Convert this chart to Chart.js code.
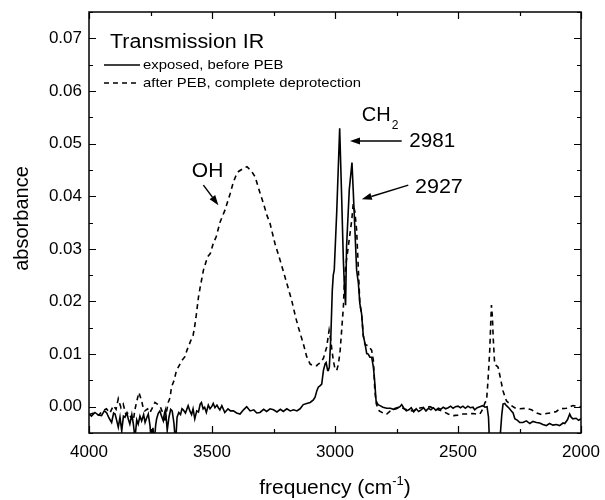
<!DOCTYPE html>
<html>
<head>
<meta charset="utf-8">
<script src="https://cdn.jsdelivr.net/npm/chart.js@4.4.1/dist/chart.umd.min.js"></script>
<style>
  html, body { margin: 0; padding: 0; background: #fff; }
  #ir { display: block; }
</style>
</head>
<body>
<canvas id="ir" width="605" height="500"></canvas>
<script>
// Transmission IR spectra, absorbance vs. wavenumber

const solidFreq = [
    4000, 3990, 3976, 3962, 3949, 3938, 3929, 3918, 3908, 3900,
    3894, 3888, 3881, 3874, 3867, 3860, 3854, 3846, 3840, 3834,
    3826, 3820, 3813, 3806, 3800, 3793, 3786, 3778, 3772, 3766,
    3759, 3752, 3746, 3740, 3735, 3729, 3725, 3718, 3712, 3705,
    3698, 3693, 3689, 3682, 3675, 3668, 3662, 3655, 3648, 3642,
    3635, 3628, 3622, 3617, 3608, 3597, 3590, 3583, 3577, 3570,
    3562, 3555, 3548, 3543, 3536, 3530, 3523, 3515, 3508, 3500,
    3495, 3488, 3480, 3474, 3468, 3460, 3448, 3435, 3425, 3413,
    3400, 3386, 3372, 3359, 3345, 3330, 3318, 3305, 3290, 3278,
    3264, 3250, 3236, 3222, 3210, 3196, 3182, 3168, 3155, 3142,
    3129, 3115, 3101, 3088, 3081, 3074, 3068, 3060, 3054, 3047,
    3040, 3036, 3030, 3027, 3023, 3017, 3011, 3007, 3003, 2993,
    2981, 2973, 2966, 2961, 2957, 2953, 2942, 2931, 2926, 2919,
    2912, 2905, 2899, 2892, 2885, 2878, 2871, 2865, 2858, 2851,
    2844, 2840, 2833, 2825, 2817, 2805, 2790, 2775, 2762, 2750,
    2736, 2729, 2720, 2710, 2700, 2690, 2680, 2670, 2660, 2650,
    2640, 2630, 2620, 2610, 2600, 2590, 2580, 2570, 2560, 2550,
    2540, 2530, 2520, 2510, 2500, 2490, 2480, 2470, 2460, 2450,
    2439, 2432, 2422, 2411, 2400, 2390, 2382, 2376, 2370, 2355,
    2340, 2330, 2322, 2317, 2310, 2303, 2292, 2283, 2276, 2269,
    2258, 2249, 2236, 2222, 2208, 2195, 2181, 2168, 2155, 2141,
    2128, 2114, 2100, 2087, 2073, 2066, 2055, 2046, 2040, 2033,
    2020, 2010, 2000
];
const solidAbs = [
    -0.0014, -0.0018, -0.0011, -0.0016, -0.0017, -0.0008, -0.0011, -0.0022, -0.0030, -0.0012,
    -0.0014, -0.0025, -0.0039, -0.0020, -0.0046, -0.0018, -0.0020, -0.0012, -0.0024, -0.0033,
    -0.0015, -0.0032, -0.0060, -0.0025, -0.0033, -0.0018, -0.0027, -0.0015, -0.0030, -0.0022,
    -0.0014, -0.0036, -0.0070, -0.0040, -0.0070, -0.0035, -0.0023, -0.0012, -0.0008, -0.0018,
    -0.0027, -0.0012, -0.0006, -0.0045, -0.0020, -0.0005, -0.0008, -0.0030, -0.0070, -0.0020,
    -0.0011, -0.0015, -0.0004, -0.0006, -0.0012, 0.0002, -0.0008, -0.0015, -0.0004, -0.0023,
    -0.0008, -0.0010, 0.0005, 0.0008, -0.0004, -0.0001, -0.0011, 0.0003, -0.0004, 0.0001,
    0.0006, -0.0002, 0.0003, -0.0002, -0.0006, 0.0002, -0.0011, -0.0004, -0.0008, -0.0008,
    -0.0012, -0.0014, -0.0006, 0.0000, -0.0008, -0.0006, -0.0012, -0.0011, -0.0005, -0.0009,
    -0.0004, -0.0006, -0.0010, -0.0005, -0.0009, -0.0004, -0.0008, -0.0006, -0.0008, -0.0004,
    0.0004, 0.0006, 0.0008, 0.0013, 0.0018, 0.0030, 0.0037, 0.0040, 0.0043, 0.0069,
    0.0082, 0.0084, 0.0069, 0.0069, 0.0075, 0.0132, 0.0221, 0.0250, 0.0260, 0.0370,
    0.0529, 0.0399, 0.0278, 0.0220, 0.0193, 0.0304, 0.0412, 0.0464, 0.0412, 0.0335,
    0.0259, 0.0235, 0.0196, 0.0177, 0.0135, 0.0120, 0.0101, 0.0100, 0.0094, 0.0094,
    0.0075, 0.0056, 0.0011, 0.0004, 0.0002, -0.0001, -0.0003, -0.0003, -0.0005, -0.0004,
    0.0000, 0.0004, -0.0003, -0.0008, -0.0006, -0.0002, -0.0010, -0.0004, -0.0009, -0.0006,
    -0.0002, -0.0008, -0.0003, -0.0006, -0.0002, -0.0007, -0.0003, -0.0005, -0.0001, -0.0004,
    -0.0002, 0.0001, -0.0003, 0.0000, 0.0001, -0.0002, 0.0001, -0.0003, 0.0001, -0.0002,
    -0.0001, -0.0006, -0.0002, 0.0000, 0.0002, -0.0001, 0.0000, -0.0020, -0.0090, -0.0140,
    -0.0100, -0.0065, -0.0015, 0.0005, 0.0006, 0.0002, -0.0003, -0.0008, -0.0012, -0.0023,
    -0.0026, -0.0030, -0.0030, -0.0027, -0.0032, -0.0028, -0.0030, -0.0031, -0.0034, -0.0036,
    -0.0032, -0.0035, -0.0034, -0.0036, -0.0031, -0.0032, -0.0025, -0.0014, -0.0020, -0.0023,
    -0.0022, -0.0026, -0.0023
];

const dashFreq = [
    4000, 3980, 3960, 3945, 3929, 3915, 3901, 3890, 3881, 3870,
    3861, 3850, 3840, 3830, 3820, 3813, 3807, 3797, 3786, 3780,
    3773, 3762, 3752, 3742, 3732, 3722, 3712, 3700, 3691, 3685,
    3678, 3670, 3665, 3654, 3645, 3637, 3622, 3610, 3602, 3586,
    3577, 3571, 3565, 3555, 3548, 3535, 3518, 3507, 3495, 3483,
    3467, 3447, 3426, 3413, 3400, 3392, 3375, 3358, 3340, 3325,
    3304, 3290, 3277, 3264, 3244, 3223, 3203, 3176, 3160, 3149,
    3129, 3115, 3101, 3088, 3074, 3068, 3058, 3047, 3034, 3024,
    3018, 3013, 3007, 3000, 2993, 2986, 2979, 2973, 2966, 2962,
    2957, 2946, 2932, 2926, 2919, 2912, 2905, 2899, 2892, 2885,
    2878, 2865, 2851, 2844, 2838, 2832, 2820, 2805, 2790, 2775,
    2760, 2748, 2736, 2720, 2700, 2682, 2665, 2650, 2630, 2614,
    2600, 2580, 2560, 2540, 2519, 2500, 2480, 2465, 2440, 2425,
    2411, 2400, 2390, 2384, 2378, 2371, 2367, 2364, 2360, 2357,
    2351, 2344, 2337, 2327, 2317, 2303, 2283, 2270, 2249, 2225,
    2201, 2180, 2161, 2140, 2114, 2100, 2087, 2059, 2033, 2015,
    2000
];
const dashAbs = [
    -0.0015, -0.0012, -0.0016, -0.0008, -0.0004, -0.0012, 0.0002, -0.0005, 0.0015, -0.0002,
    0.0005, -0.0015, -0.0011, -0.0020, -0.0027, -0.0005, 0.0008, 0.0027, 0.0011, -0.0002,
    -0.0008, -0.0004, -0.0011, -0.0002, 0.0008, 0.0005, 0.0002, -0.0012, -0.0030, -0.0010,
    0.0008, 0.0018, 0.0037, 0.0050, 0.0068, 0.0075, 0.0088, 0.0095, 0.0107, 0.0126,
    0.0135, 0.0151, 0.0170, 0.0208, 0.0227, 0.0259, 0.0285, 0.0291, 0.0310, 0.0323,
    0.0351, 0.0374, 0.0405, 0.0427, 0.0442, 0.0447, 0.0452, 0.0456, 0.0448, 0.0437,
    0.0405, 0.0385, 0.0364, 0.0348, 0.0310, 0.0278, 0.0246, 0.0202, 0.0170, 0.0151,
    0.0120, 0.0095, 0.0081, 0.0078, 0.0078, 0.0081, 0.0084, 0.0092, 0.0113, 0.0145,
    0.0128, 0.0110, 0.0088, 0.0072, 0.0069, 0.0081, 0.0107, 0.0145, 0.0189, 0.0234,
    0.0266, 0.0304, 0.0354, 0.0385, 0.0370, 0.0335, 0.0260, 0.0196, 0.0177, 0.0135,
    0.0118, 0.0116, 0.0107, 0.0088, 0.0030, 0.0005, -0.0008, -0.0012, -0.0014, -0.0008,
    -0.0004, -0.0002, 0.0000, -0.0004, -0.0007, -0.0008, -0.0004, -0.0002, -0.0001, 0.0000,
    -0.0003, -0.0006, -0.0009, -0.0014, -0.0017, -0.0016, -0.0014, -0.0014, -0.0013, -0.0014,
    -0.0014, -0.0005, 0.0008, 0.0011, 0.0050, 0.0107, 0.0158, 0.0193, 0.0170, 0.0132,
    0.0081, 0.0078, 0.0075, 0.0053, 0.0030, 0.0011, 0.0002, -0.0002, -0.0004, -0.0003,
    -0.0006, -0.0012, -0.0015, -0.0013, -0.0011, -0.0009, -0.0004, -0.0003, 0.0002, 0.0001,
    0.0000
];

const seriesLabels = ['exposed, before PEB', 'after PEB, complete deprotection'];
const xTickLabels = [4000, 3500, 3000, 2500, 2000];
const yTickLabels = [0.00, 0.01, 0.02, 0.03, 0.04, 0.05, 0.06, 0.07];

const FONT = "'Liberation Sans', Arial, Helvetica, sans-serif";

function toPoints(xs, ys) {
    return xs.map((x, i) => ({ x: x, y: ys[i] }));
}

function isYLabel(v) {
    return yTickLabels.some(t => Math.abs(t - v) < 1e-6);
}

function drawText(ctx, str, x, y, size, sx, align) {
    ctx.font = size + 'px ' + FONT;
    const w = ctx.measureText(str).width * sx;
    let left = x;
    if (align === 'center') left = x - w / 2;
    ctx.save();
    ctx.translate(left, y);
    ctx.scale(sx, 1);
    ctx.textAlign = 'left';
    ctx.fillText(str, 0, 0);
    ctx.restore();
    return w;
}

function drawArrow(ctx, x1, y1, x2, y2) {
    const ang = Math.atan2(y2 - y1, x2 - x1);
    const hl = 10, hw = 3.5;
    const bx = x2 - hl * Math.cos(ang), by = y2 - hl * Math.sin(ang);
    ctx.beginPath();
    ctx.moveTo(x1, y1);
    ctx.lineTo(bx, by);
    ctx.stroke();
    ctx.beginPath();
    ctx.moveTo(x2, y2);
    ctx.lineTo(bx + hw * Math.sin(ang), by - hw * Math.cos(ang));
    ctx.lineTo(bx - hw * Math.sin(ang), by + hw * Math.cos(ang));
    ctx.closePath();
    ctx.fill();
}

// frame, inward ticks on all four sides, legend, annotations and axis titles
const decorPlugin = {
    id: 'decor',
    afterDraw(chart) {
        const ctx = chart.ctx;
        const a = chart.chartArea;
        const xs = chart.scales.x;
        const ys = chart.scales.y;
        ctx.save();
        ctx.strokeStyle = '#000';
        ctx.fillStyle = '#000';
        ctx.lineCap = 'butt';

        ctx.lineWidth = 1.2;
        ctx.beginPath();
        xs.ticks.forEach(t => {
            const px = Math.round(xs.getPixelForValue(t.value)) + 0.5;
            const len = xTickLabels.includes(t.value) ? 7 : 4;
            ctx.moveTo(px, a.bottom); ctx.lineTo(px, a.bottom - len);
            ctx.moveTo(px, a.top); ctx.lineTo(px, a.top + len);
        });
        ys.ticks.forEach(t => {
            const py = Math.round(ys.getPixelForValue(t.value)) + 0.5;
            const len = isYLabel(t.value) ? 7 : 4;
            ctx.moveTo(a.left, py); ctx.lineTo(a.left + len, py);
            ctx.moveTo(a.right, py); ctx.lineTo(a.right - len, py);
        });
        ctx.stroke();

        ctx.lineWidth = 1.5;
        ctx.strokeRect(a.left, a.top, a.right - a.left, a.bottom - a.top);

        // legend
        ctx.textBaseline = 'alphabetic';
        drawText(ctx, 'Transmission IR', a.left + 21, a.top + 36, 19.5, 1.1, 'left');
        chart.data.datasets.forEach((ds, i) => {
            const ly = a.top + 53 + i * 18;
            ctx.lineWidth = ds.borderWidth;
            ctx.setLineDash(ds.borderDash || []);
            ctx.beginPath();
            ctx.moveTo(a.left + 15, ly);
            ctx.lineTo(a.left + 51, ly);
            ctx.stroke();
            ctx.setLineDash([]);
            ctx.textBaseline = 'middle';
            drawText(ctx, ds.label, a.left + 54, ly + 0.5, 13.5, 1.1, 'left');
            ctx.textBaseline = 'alphabetic';
        });

        // annotations, placed in data units
        const X = v => xs.getPixelForValue(v);
        const Y = v => ys.getPixelForValue(v);
        drawText(ctx, 'OH', X(3582), Y(0.0437), 20, 1.05, 'left');
        const chW = drawText(ctx, 'CH', X(2891), Y(0.0543), 20, 1.0, 'left');
        drawText(ctx, '2', X(2891) + chW + 1, Y(0.0543) + 8, 12, 1.0, 'left');
        drawText(ctx, '2981', X(2698), Y(0.0494), 20, 1.03, 'left');
        drawText(ctx, '2927', X(2675), Y(0.0407), 20.5, 1.05, 'left');
        ctx.lineWidth = 1.5;
        drawArrow(ctx, X(3535), Y(0.0421), X(3474), Y(0.0383));
        drawArrow(ctx, X(2729), Y(0.0505), X(2939), Y(0.0505));
        drawArrow(ctx, X(2702), Y(0.0421), X(2891), Y(0.0394));

        // axis titles
        ctx.save();
        ctx.translate(28, (a.top + a.bottom) / 2 - 4);
        ctx.rotate(-Math.PI / 2);
        drawText(ctx, 'absorbance', 0, 0, 20, 1.0, 'center');
        ctx.restore();

        const cx = (a.left + a.right) / 2;
        const base = 494;
        ctx.font = '21px ' + FONT;
        const w1 = ctx.measureText('frequency (cm').width;
        const w3 = ctx.measureText(')').width;
        ctx.font = '13px ' + FONT;
        const w2 = ctx.measureText('-1').width;
        let left = cx - (w1 + w2 + w3) / 2;
        drawText(ctx, 'frequency (cm', left, base, 21, 1.0, 'left');
        drawText(ctx, '-1', left + w1, base - 9, 13, 1.0, 'left');
        drawText(ctx, ')', left + w1 + w2, base, 21, 1.0, 'left');

        ctx.restore();
    }
};

document.addEventListener('DOMContentLoaded', () => {
    const ctx = document.getElementById('ir');
    new Chart(ctx, {
        type: 'line',
        data: {
            datasets: [{
                label: seriesLabels[0],
                data: toPoints(solidFreq, solidAbs),
                borderColor: '#000',
                borderWidth: 1.6,
                pointRadius: 0,
                tension: 0
            }, {
                label: seriesLabels[1],
                data: toPoints(dashFreq, dashAbs),
                borderColor: '#000',
                borderWidth: 1.6,
                borderDash: [5, 4],
                pointRadius: 0,
                tension: 0
            }]
        },
        options: {
            responsive: false,
            animation: false,
            events: [],
            layout: {
                padding: { left: 0, top: 12, right: 24, bottom: 0 }
            },
            plugins: {
                legend: { display: false },
                tooltip: { enabled: false }
            },
            scales: {
                x: {
                    type: 'linear',
                    reverse: true,
                    min: 2000,
                    max: 4000,
                    grid: { display: false, drawTicks: false },
                    border: { display: false },
                    ticks: {
                        stepSize: 250,
                        autoSkip: false,
                        maxRotation: 0,
                        padding: 9,
                        color: '#000',
                        font: { family: FONT, size: 17 },
                        callback: function(value) {
                            return xTickLabels.includes(value) ? String(value) : '';
                        }
                    },
                    afterFit: function(scale) {
                        scale.height = 67;
                        scale.paddingLeft = 0;
                        scale.paddingRight = 0;
                    }
                },
                y: {
                    min: -0.005,
                    max: 0.075,
                    grid: { display: false, drawTicks: false },
                    border: { display: false },
                    ticks: {
                        stepSize: 0.005,
                        autoSkip: false,
                        padding: 7,
                        color: '#000',
                        font: { family: FONT, size: 17 },
                        callback: function(value) {
                            return isYLabel(value) ? value.toFixed(2) : '';
                        }
                    },
                    afterFit: function(scale) {
                        scale.width = 89;
                        scale.paddingTop = 0;
                        scale.paddingBottom = 0;
                    }
                }
            }
        },
        plugins: [decorPlugin]
    });
});
</script>
</body>
</html>
